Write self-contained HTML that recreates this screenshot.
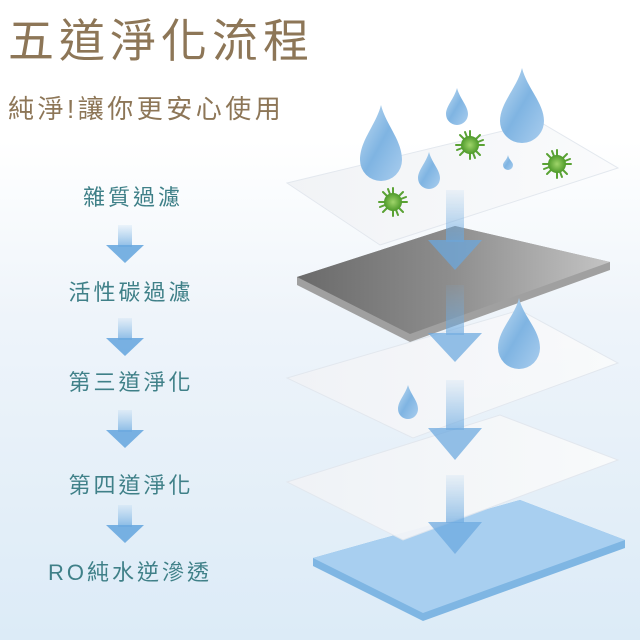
<!DOCTYPE html>
<html><head><meta charset="utf-8"><style>
html,body{margin:0;padding:0;}
body{width:640px;height:640px;overflow:hidden;background:linear-gradient(180deg,#ffffff 0%,#ffffff 22%,#eef4fa 50%,#dcebf7 100%);}
svg{display:block}
text{font-family:"Liberation Sans","Noto Sans CJK TC",sans-serif;}
</style></head><body>
<svg width="640" height="640" viewBox="0 0 640 640" xmlns="http://www.w3.org/2000/svg">
<defs>
<linearGradient id="drop" x1="0" y1="0" x2="1" y2="1">
<stop offset="0" stop-color="#c4def3"/><stop offset="0.5" stop-color="#7fb4e2"/><stop offset="1" stop-color="#a9cdee"/>
</linearGradient>
<linearGradient id="shaft" x1="0" y1="0" x2="0" y2="1">
<stop offset="0" stop-color="#7ab3e3" stop-opacity="0.1"/><stop offset="1" stop-color="#6aa8df" stop-opacity="0.75"/>
</linearGradient>
<linearGradient id="gray" x1="0" y1="0" x2="1" y2="0">
<stop offset="0" stop-color="#6a6a6a"/><stop offset="0.5" stop-color="#8e8e8e"/><stop offset="1" stop-color="#c4c4c4"/>
</linearGradient>
<linearGradient id="sheet" x1="0" y1="0" x2="1" y2="0">
<stop offset="0" stop-color="#f1f3f6"/><stop offset="1" stop-color="#fafbfc"/>
</linearGradient>
<radialGradient id="vir"><stop offset="0" stop-color="#9fd46a"/><stop offset="1" stop-color="#4e9a2a"/></radialGradient>
</defs>

<text x="8" y="57" font-size="46" fill="#8d7657" letter-spacing="5">五道淨化流程</text>
<text x="8" y="118" font-size="26" fill="#8d7657" letter-spacing="3.5">純淨!讓你更安心使用</text>

<g font-size="22" fill="#3f8088" text-anchor="middle" letter-spacing="3">
<text x="133" y="205">雜質過濾</text>
<text x="131" y="300">活性碳過濾</text>
<text x="131" y="390">第三道淨化</text>
<text x="131" y="493">第四道淨化</text>
<text x="130" y="580">RO純水逆滲透</text>
</g>
<g>
<g transform="translate(125,225)"><rect x="-7" y="0" width="14" height="22" fill="url(#shaft)"/><polygon points="-19,20 19,20 0,38" fill="#6aa8df" opacity="0.9"/></g>
<g transform="translate(125,318)"><rect x="-7" y="0" width="14" height="22" fill="url(#shaft)"/><polygon points="-19,20 19,20 0,38" fill="#6aa8df" opacity="0.9"/></g>
<g transform="translate(125,410)"><rect x="-7" y="0" width="14" height="22" fill="url(#shaft)"/><polygon points="-19,20 19,20 0,38" fill="#6aa8df" opacity="0.9"/></g>
<g transform="translate(125,505)"><rect x="-7" y="0" width="14" height="22" fill="url(#shaft)"/><polygon points="-19,20 19,20 0,38" fill="#6aa8df" opacity="0.9"/></g>
</g>

<polygon points="313,558 520,500 625,540 625,548 423,621 313,566" fill="#7fb6e3"/>
<polygon points="313,558 520,500 625,540 423,613" fill="#a8cff0"/>
<polygon points="287,482 500,415 618,460 403,540" fill="url(#sheet)" stroke="#e2e7ee" opacity="0.92"/>
<polygon points="287,378 520,310 618,363 413,438" fill="url(#sheet)" stroke="#e2e7ee" opacity="0.92"/>
<polygon points="297,277 455,226 610,262 610,270 410,342 297,285" fill="#a0a0a0"/>
<polygon points="297,277 455,226 610,262 410,334" fill="url(#gray)"/>
<polygon points="287,183 540,122 618,168 380,245" fill="url(#sheet)" stroke="#e2e7ee" opacity="0.95"/>

<g opacity="0.9">
<rect x="446" y="190" width="18" height="52" fill="url(#shaft)"/><polygon points="428,240 482,240 455,270" fill="#6aa8df" opacity="0.8"/>
<rect x="446" y="285" width="18" height="50" fill="url(#shaft)"/><polygon points="428,333 482,333 455,362" fill="#6aa8df" opacity="0.8"/>
<rect x="446" y="380" width="18" height="50" fill="url(#shaft)"/><polygon points="428,428 482,428 455,460" fill="#6aa8df" opacity="0.8"/>
<rect x="446" y="475" width="18" height="48" fill="url(#shaft)"/><polygon points="428,522 482,522 455,554" fill="#6aa8df" opacity="0.8"/>
</g>

<g fill="url(#drop)">
<path d="M381,105 C386,125 402,140 402,160 A21,21 0 0 1 360,160 C360,140 376,125 381,105Z"/>
<path d="M429,152 C432,163 440,170 440,178 A11,11 0 0 1 418,178 C418,170 426,163 429,152Z"/>
<path d="M457,88 C460,99 468,106 468,114 A11,11 0 0 1 446,114 C446,106 454,99 457,88Z"/>
<path d="M522,68 C527,88 544,103 544,121 A22,22 0 0 1 500,121 C500,103 517,88 522,68Z"/>
<path d="M508,155 C509,160 513,162 513,165 A5,5 0 0 1 503,165 C503,162 507,160 508,155Z"/>
<path d="M519,298 C523,316 540,330 540,348 A21,21 0 0 1 498,348 C498,330 515,316 519,298Z"/>
<path d="M408,385 C411,395 418,401 418,409 A10,10 0 0 1 398,409 C398,401 405,395 408,385Z"/>
</g>

<g stroke="#5aa234" stroke-width="2" stroke-linecap="round">
<g transform="translate(393,202)"><path d="M0,-14V14M-14,0H14M-10,-10L10,10M-10,10L10,-10M-5,-13L5,13M-13,5L13,-5"/><circle r="9" fill="url(#vir)" stroke="none"/></g>
<g transform="translate(470,145)"><path d="M0,-14V14M-14,0H14M-10,-10L10,10M-10,10L10,-10M-5,-13L5,13M-13,5L13,-5"/><circle r="9" fill="url(#vir)" stroke="none"/></g>
<g transform="translate(557,164)"><path d="M0,-14V14M-14,0H14M-10,-10L10,10M-10,10L10,-10M-5,-13L5,13M-13,5L13,-5"/><circle r="9" fill="url(#vir)" stroke="none"/></g>
</g>
</svg>
</body></html>
